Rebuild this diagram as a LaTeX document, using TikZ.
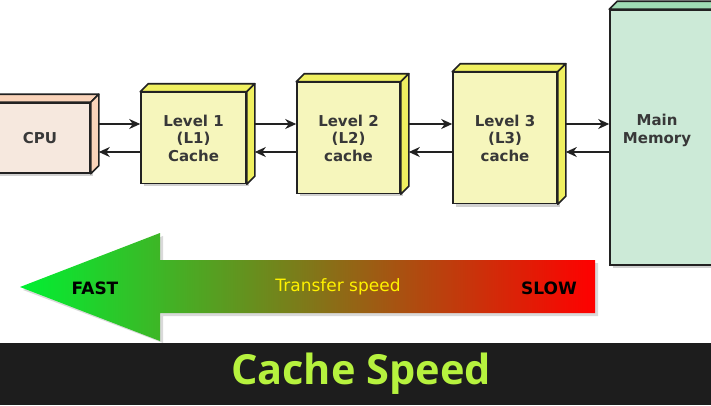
\documentclass[tikz,border=0pt]{standalone}
\usepackage{fontspec}
\setmainfont{DejaVu Sans}
\newfontfamily\titlefont{Open Sans}
\usetikzlibrary{arrows.meta,positioning,calc}
\definecolor{cpufront}{RGB}{246,232,222}
\definecolor{cpuside}{RGB}{250,212,186}
\definecolor{lfront}{RGB}{246,246,188}
\definecolor{lside}{RGB}{240,240,96}
\definecolor{mmfront}{RGB}{204,234,215}
\definecolor{mmside}{RGB}{160,220,180}
\definecolor{edge}{RGB}{34,34,34}
\definecolor{fastgreen}{RGB}{0,240,50}
\definecolor{slowred}{RGB}{255,0,0}
\definecolor{band}{RGB}{29,29,29}
\definecolor{titlegreen}{RGB}{182,242,62}
\tikzset{
  cbox/.style={draw=edge, line width=1.6pt, inner sep=0pt, align=center,
    font=\fontsize{15}{17.5}\selectfont\bfseries, text=edge!90!white},
  face/.style={draw=edge, line width=1.6pt, line join=round},
  conn/.style={draw=edge, line width=1.3pt, -{Stealth[length=11pt,width=10pt,inset=3.5pt]}},
  lbl/.style={font=\fontsize{17}{19}\selectfont},
}
\begin{document}
\begin{tikzpicture}[x=1pt,y=-1pt]
\useasboundingbox (0,0) rectangle (711,405);
\fill[white] (0,0) rectangle (711,405);

% --- shadows ---
\fill[black!18] (-10,107) rectangle (93,176);
\fill[black!18] (144,96) rectangle (249,186);
\fill[black!18] (300,86) rectangle (403,196);
\fill[black!18] (456,76) rectangle (560,207);
\fill[black!18] (613,14) rectangle (720,268);

% --- boxes (front faces) ---
\node[cbox, fill=cpufront, minimum width=100pt, minimum height=70pt] (cpu) at (40,138) {CPU};
\node[cbox, fill=lfront, minimum width=105pt, minimum height=91pt] (l1) at (193.5,138) {Level 1\\(L1)\\Cache};
\node[cbox, fill=lfront, minimum width=103pt, minimum height=111pt] (l2) at (348.5,138) {Level 2\\(L2)\\cache};
\node[cbox, fill=lfront, minimum width=104pt, minimum height=131pt] (l3) at (505,138) {Level 3\\(L3)\\cache};
\node[cbox, fill=mmfront, minimum width=120pt, minimum height=255pt] (mm) at (670,137.5) {};
\node[cbox, draw=none, anchor=center] (mmtext) at ([shift={(-13,-7)}]mm.center) {Main\\Memory};

% --- 3D faces ---
\foreach \n/\c in {cpu/cpuside, l1/lside, l2/lside, l3/lside, mm/mmside}{
  \filldraw[face, fill=\c] (\n.north west) -- ++(8,-8) -- ([shift={(8,-8)}]\n.north east) -- (\n.north east) -- cycle;
  \filldraw[face, fill=\c] (\n.north east) -- ++(8,-8) -- ([shift={(8,-8)}]\n.south east) -- (\n.south east) -- cycle;
}

% --- connectors ---
\draw[conn] ([shift={(8,-14)}]cpu.east) -- ([shift={(0,-14)}]l1.west);
\draw[conn] ([shift={(0,14)}]l1.west) -- ([shift={(8,14)}]cpu.east);
\draw[conn] ([shift={(8,-14)}]l1.east) -- ([shift={(0,-14)}]l2.west);
\draw[conn] ([shift={(0,14)}]l2.west) -- ([shift={(8,14)}]l1.east);
\draw[conn] ([shift={(8,-14)}]l2.east) -- ([shift={(0,-14)}]l3.west);
\draw[conn] ([shift={(0,14)}]l3.west) -- ([shift={(8,14)}]l2.east);
\draw[conn] ([shift={(8,-14)}]l3.east) -- (mm.west |- 0,124);
\draw[conn] (mm.west |- 0,152) -- ([shift={(8,14)}]l3.east);

% --- speed arrow ---
\fill[black!15] (23,290) -- (163,236) -- (163,263) -- (598,263) -- (598,316) -- (163,316) -- (163,343) -- cycle;
\shade[left color=fastgreen, right color=slowred]
  (20,287) -- (160,233) -- (160,260) -- (595,260) -- (595,313) -- (160,313) -- (160,341) -- cycle;
\node[lbl, text=black, font=\fontsize{17}{19}\selectfont\bfseries] (fast) at (95,288) {FAST};
\node[lbl, text=yellow] (tspeed) at (338,287) {Transfer speed};
\node[lbl, text=black, font=\fontsize{17}{19}\selectfont\bfseries] (slow) at (549,288) {SLOW};

% --- title band ---
\fill[band] (0,343) rectangle (711,405);
\node[font=\titlefont\fontsize{41.5}{46}\selectfont\bfseries, text=titlegreen] (title) at (361,374) {Cache Speed};
\end{tikzpicture}
\end{document}
